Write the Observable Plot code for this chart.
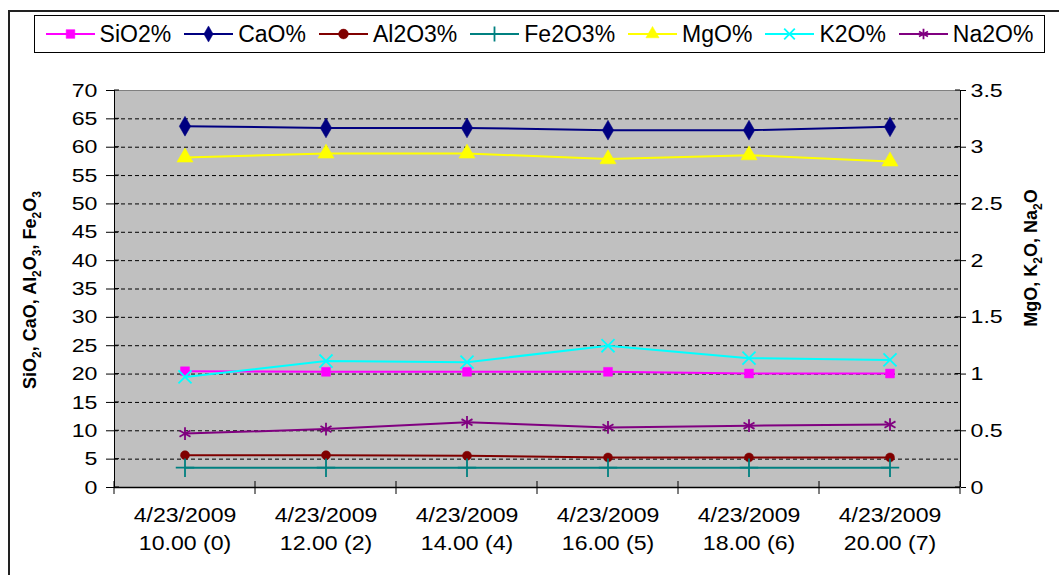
<!DOCTYPE html>
<html><head><meta charset="utf-8">
<script src="https://cdn.jsdelivr.net/npm/d3@7"></script>
<script src="https://cdn.jsdelivr.net/npm/@observablehq/plot@0.6"></script>
<style>
body{margin:0;background:#fff;font-family:"Liberation Sans",Arial,sans-serif;}
#wrap{position:relative;width:1059px;height:575px;overflow:hidden;}
#frame{position:absolute;left:8px;top:10px;width:1070px;height:600px;border:2px solid #222;box-sizing:border-box;}
#legend{position:absolute;left:34px;top:15px;width:1011px;height:38px;border:1px solid #000;box-sizing:border-box;display:flex;align-items:center;justify-content:center;gap:13px;font-size:23px;background:#fff;color:#000;}
.li{display:flex;align-items:center;gap:5px;}
#chart{position:absolute;left:0;top:0;}
</style></head><body>
<div id="wrap"><div id="frame"></div><div id="chart"></div><div id="legend"></div></div>
<script>
const categories = ["4/23/2009\n10.00 (0)","4/23/2009\n12.00 (2)","4/23/2009\n14.00 (4)","4/23/2009\n16.00 (5)","4/23/2009\n18.00 (6)","4/23/2009\n20.00 (7)"];
const SiO2  = [20.5, 20.4, 20.4, 20.4, 20.1, 20.1];
const CaO   = [63.7, 63.4, 63.4, 63.0, 63.0, 63.6];
const Al2O3 = [5.7, 5.7, 5.6, 5.3, 5.3, 5.3];
const Fe2O3 = [3.5, 3.5, 3.5, 3.5, 3.5, 3.5];
const MgO   = [2.91, 2.945, 2.945, 2.895, 2.93, 2.875];
const K2O   = [0.975, 1.115, 1.105, 1.25, 1.14, 1.125];
const Na2O  = [0.475, 0.515, 0.575, 0.53, 0.545, 0.555];
const leftTicks = [0,5,10,15,20,25,30,35,40,45,50,55,60,65,70];
const rightTicks = [0,0.5,1,1.5,2,2.5,3,3.5];

const series = [
  {name:"SiO2%", values:SiO2, axis:"left", color:"#FF00FF", symbol:"square", filled:true, r:5},
  {name:"CaO%", values:CaO, axis:"left", color:"#000080", symbol:"diamond", filled:true, r:6},
  {name:"Al2O3%", values:Al2O3, axis:"left", color:"#800000", symbol:"circle", filled:true, r:4.5},
  {name:"Fe2O3%", values:Fe2O3, axis:"left", color:"#008080", symbol:"plus", filled:false, r:6},
  {name:"MgO%", values:MgO, axis:"right", color:"#FFFF00", symbol:"triangle", filled:true, r:6},
  {name:"K2O%", values:K2O, axis:"right", color:"#00FFFF", symbol:"times", filled:false, r:6},
  {name:"Na2O%", values:Na2O, axis:"right", color:"#800080", symbol:"asterisk", filled:false, r:6}
];
const K = 20; // right axis ratio: 3.5 ↔ 70
const rows = series.flatMap(s => s.values.map((v,i)=>({name:s.name, i, v, y: s.axis==="right" ? v*K : v})));
const FONT = "'Liberation Sans', Arial, sans-serif";

const marks = [
  Plot.frame({fill:"#C0C0C0", stroke:null}),
  Plot.gridY(leftTicks.filter(t=>t>0 && t<70), {stroke:"#000", strokeOpacity:1, strokeDasharray:"4,3", strokeWidth:1}),
  Plot.axisY(leftTicks, {anchor:"left", tickSize:8, tickPadding:9, fontSize:19, label:null, tickFormat:d=>d}),
  Plot.axisY(rightTicks.map(t=>t*K), {anchor:"right", tickSize:5, tickPadding:5, fontSize:19, label:null, tickFormat:d=>String(+(d/K).toFixed(2))}),
  Plot.axisX(categories.map((c,i)=>i), {anchor:"bottom", tickSize:0, tickPadding:15, fontSize:21, label:null, tickFormat:i=>categories[i], lineHeight:1.33}),
  Plot.ruleY([70], {stroke:"#808080"}),
  Plot.ruleY([0], {stroke:"#000", strokeWidth:1.5}),
  Plot.ruleX([-0.5], {stroke:"#000"}),
  Plot.ruleX([5.5], {stroke:"#000"})
];
for (const s of series) {
  const data = rows.filter(r=>r.name===s.name);
  marks.push(Plot.line(data, {x:"i", y:"y", stroke:s.color, strokeWidth:2}));
  marks.push(Plot.dot(data, {x:"i", y:"y", symbol:()=>s.symbol, r:s.r,
    fill: s.filled ? s.color : "none", stroke:s.color, strokeWidth: s.filled ? 0.5 : 1.8}));
}

const chart = Plot.plot({
  width:1059, height:575,
  marginLeft:114, marginRight:99, marginTop:90, marginBottom:88,
  x:{type:"linear", domain:[-0.5,5.5], axis:null},
  y:{domain:[0,70], axis:null},
  symbol:{type:"identity"},
  style:{fontFamily:FONT, color:"#000", background:"transparent", overflow:"visible"},
  marks
});
document.getElementById("chart").appendChild(chart);

const sx = chart.scale("x"), sy = chart.scale("y");
const svg = d3.select(chart);
const x0 = sx.apply(-0.5), x1 = sx.apply(5.5), y0 = sy.apply(0);

// widen tick labels horizontally to match the reference's stretched glyphs
function widen(sel, k) {
  sel.each(function(){
    const el = this;
    let tr = el.getAttribute("transform");
    if (!tr) {
      const x = el.getAttribute("x") || 0, y = el.getAttribute("y") || 0;
      tr = `translate(${x},${y})`; el.removeAttribute("x"); el.removeAttribute("y");
    }
    el.setAttribute("transform", tr + ` scale(${k},1)`);
  });
}
widen(svg.selectAll('g[aria-label="y-axis tick label"] text'), 1.22);
widen(svg.selectAll('g[aria-label="x-axis tick label"] text'), 1.1);

// cross tick marks (inner part) on x axis at category boundaries
svg.append("g").selectAll("line").data(d3.range(-0.5, 6, 1)).join("line")
  .attr("x1", d=>sx.apply(d)).attr("x2", d=>sx.apply(d))
  .attr("y1", y0-6).attr("y2", y0+7).attr("stroke","#000");
// inner parts of y ticks
svg.append("g").selectAll("line").data(leftTicks).join("line")
  .attr("x1", x0).attr("x2", x0+5).attr("y1", d=>sy.apply(d)).attr("y2", d=>sy.apply(d)).attr("stroke","#000");
svg.append("g").selectAll("line").data(rightTicks).join("line")
  .attr("x1", x1-5).attr("x2", x1).attr("y1", d=>sy.apply(d*K)).attr("y2", d=>sy.apply(d*K)).attr("stroke","#000");

// axis titles with subscripts
function title(x, y, str) {
  const parts=[]; const re=/_(\d)/g; let last=0,m;
  while((m=re.exec(str))){ parts.push([str.slice(last,m.index),false]); parts.push([m[1],true]); last=re.lastIndex; }
  parts.push([str.slice(last),false]);
  const t = svg.append("text").attr("transform", `translate(${x},${y}) rotate(-90)`)
    .attr("text-anchor","middle").attr("font-weight","bold").attr("font-size",18)
    .attr("font-family",FONT).attr("fill","#000");
  let prevSub=false;
  for (const [txt, sub] of parts) {
    if (!txt) continue;
    const ts = t.append("tspan").text(txt);
    if (sub) { ts.attr("font-size",12).attr("dy",5); prevSub=true; }
    else if (prevSub) { ts.attr("dy",-5); prevSub=false; }
  }
}
title(36, 290, "SiO_2, CaO, Al_2O_3, Fe_2O_3");
title(1037, 258, "MgO, K_2O, Na_2O");

// legend
const symMap = {square:d3.symbolSquare,diamond:d3.symbolDiamond,circle:d3.symbolCircle,plus:d3.symbolPlus,triangle:d3.symbolTriangle,times:d3.symbolTimes,asterisk:d3.symbolAsterisk};
const lg = d3.select("#legend");
for (const s of series) {
  const it = lg.append("div").attr("class","li");
  const sv = it.append("svg").attr("width",49).attr("height",20);
  sv.append("line").attr("x1",0).attr("x2",49).attr("y1",10).attr("y2",10).attr("stroke",s.color).attr("stroke-width",2);
  sv.append("path").attr("d", d3.symbol(symMap[s.symbol], 75)())
    .attr("transform","translate(24.5,10)").attr("fill", s.filled ? s.color : "none").attr("stroke", s.color).attr("stroke-width", s.filled?0.5:1.8);
  it.append("span").text(s.name);
}
</script>
</body></html>
